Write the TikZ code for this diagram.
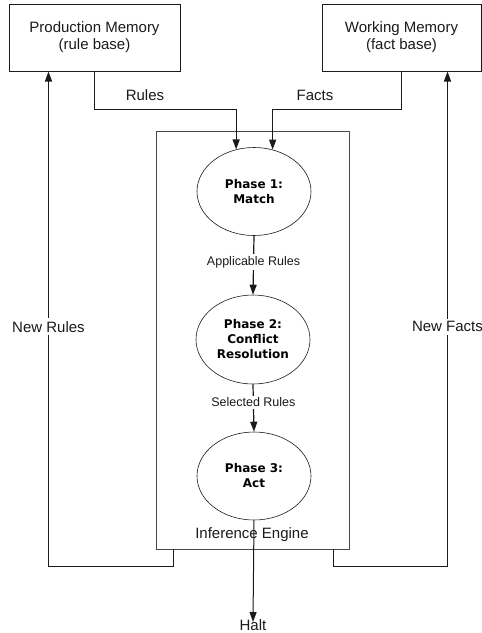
\documentclass[tikz,border=0pt]{standalone}
\usepackage{fontspec}
\setmainfont{Liberation Sans}
\newfontfamily\phasefont{DejaVu Sans}
\usetikzlibrary{arrows.meta,shapes.geometric}
\definecolor{ink}{HTML}{1A1A1A}
\tikzset{
  membox/.style={draw=ink,line width=1pt,minimum height=67pt,inner sep=0pt,align=center,font=\fontsize{15}{17}\selectfont,text=ink},
  engbox/.style={draw=ink!80,line width=0.8pt,inner sep=0pt},
  phase/.style={draw=ink,ellipse,line width=0.6pt,minimum width=114pt,minimum height=88pt,inner sep=0pt,align=center,font=\phasefont\bfseries\fontsize{12}{15}\selectfont,text=black},
  arr/.style={draw=ink,line width=1.2pt,-{Triangle[length=10pt,width=7pt]}},
  bigl/.style={font=\fontsize{15}{17}\selectfont,text=ink,inner sep=1pt},
  smalll/.style={font=\fontsize{12.5}{14}\selectfont,text=ink,fill=white,inner sep=2pt},
}
\begin{document}
\begin{tikzpicture}[x=1pt,y=-1pt]
\useasboundingbox (0,0) rectangle (482,633);
\node[membox,minimum width=171pt] (pm) at (94.5,37.5) {Production Memory\\(rule base)};
\node[membox,minimum width=159pt] (wm) at (401.5,37.5) {Working Memory\\(fact base)};
\node[engbox,minimum width=193pt,minimum height=418pt] (eng) at (252.5,340) {};
\node[bigl] (englbl) at (252,535) {Inference Engine};
\node[phase] (e1) at (254,191.5) {Phase 1:\\Match};
\node[phase,minimum height=89pt] (e2) at (253,339.5) {Phase 2:\\Conflict\\Resolution};
\node[phase] (e3) at (254,476) {Phase 3:\\Act};
\node[bigl,inner sep=0pt,anchor=north] (halt) at (253,619) {Halt};
\node[bigl] (rl) at (145,95) {Rules};
\node[bigl] (fl) at (315,95) {Facts};
\draw[arr] (pm.south) -- ++(0,38) -| (e1.113.5);
\draw[arr] (wm.south) -- ++(0,38) -| (e1.66.5);
\draw[arr] (e1.south) -- node[smalll,pos=0.45]{Applicable Rules} (e2.north);
\draw[arr] (e2.south) -- node[smalll,pos=0.38]{Selected Rules} (e3.north);
\draw[arr,line width=1pt] (e3.south) -- ([yshift=-3pt]halt.north);
\draw[arr] ([xshift=18pt]eng.south west) -- ++(0,17) -| ([xshift=40pt]pm.south west)
  node[pos=0.742,bigl,fill=white,inner sep=3pt]{New Rules};
\draw[arr] ([xshift=-16pt]eng.south east) -- ++(0,17) -| ([xshift=-34pt]wm.south east)
  node[pos=0.742,bigl,fill=white,inner sep=3pt]{New Facts};
\end{tikzpicture}
\end{document}
